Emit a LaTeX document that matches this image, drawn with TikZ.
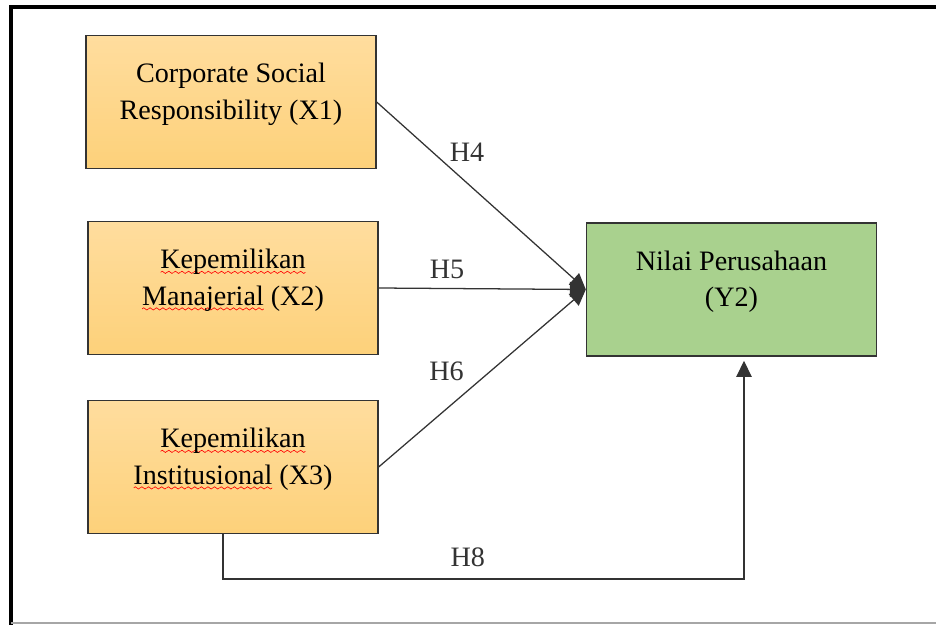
\documentclass[tikz,border=0pt]{standalone}
\usepackage{fontspec}
\setmainfont{Liberation Serif}
\usetikzlibrary{arrows.meta,positioning}

\definecolor{ocTop}{HTML}{FFDD9E}
\definecolor{ocBot}{HTML}{FDD17A}
\definecolor{gnBox}{HTML}{A9D18E}
\definecolor{lnGray}{HTML}{333333}

% red spell-check squiggle under a word
\newsavebox\wavebit
\newsavebox\wordbox
\sbox\wavebit{\tikz[x=1pt,y=1pt]{\useasboundingbox (0,-1) rectangle (4.5,1);
		\draw[red, line width=0.45pt] (0,0) sin (1.125,0.8) cos (2.25,0) sin (3.375,-0.8) cos (4.5,0);}}
\newcommand\redwave[1]{\sbox\wordbox{#1}%
	\rlap{\raisebox{-3.6pt}{\hbox to \wd\wordbox{\xleaders\copy\wavebit\hfill}}}\usebox\wordbox}

\tikzset{
	varbox/.style={draw=black!80, line width=0.9pt, minimum width=7.25cm, minimum height=3.33cm,
		align=center, font=\fontsize{20pt}{26pt}\selectfont, text depth=0.54cm},
	xbox/.style={varbox, top color=ocTop, bottom color=ocBot},
	ybox/.style={varbox, fill=gnBox},
	link/.style={lnGray, line width=0.9pt, -{Triangle[length=0.4cm,width=0.38cm]}},
	hlab/.style={font=\fontsize{20pt}{24pt}\selectfont, inner sep=1pt}
}

\begin{document}
\begin{tikzpicture}[x=0.025cm,y=-0.025cm]
	\useasboundingbox (0,0) rectangle (936,625);
	
	% frame
	\draw[line width=2.8pt] (11,625) -- (11,7) -- (936,7);
	\draw[gray!70, line width=0.8pt] (11,623) -- (936,623);
	
	% variables
	\node[xbox] (x1) at (231,102) {Corporate Social\\Responsibility (X1)};
	\node[xbox] (x2) at (233,288) {\redwave{Kepemilikan}\\\redwave{Manajerial} (X2)};
	\node[xbox] (x3) at (233,467) {\redwave{Kepemilikan}\\\redwave{Institusional} (X3)};
	\node[ybox] (y2) at (731.5,289.5) {Nilai Perusahaan\\(Y2)};
	
	% hypotheses
	\draw[link] (x1.east) -- (y2.west) node[hlab, pos=0.39, above=0.3cm, xshift=0.22cm]{H4};
	\draw[link] (x2.east) -- (y2.west) node[hlab, pos=0.33, above=0.2cm]{H5};
	\draw[link] (x3.east) -- (y2.west) node[hlab, pos=0.42, above left=0.25cm and 0cm]{H6};
	
	\coordinate (b8) at (223,579);
	\coordinate (c8) at (744,579);
	\draw[link, shorten >=0.1cm] (x3.south -| b8) -- (b8) -- node[hlab, pos=0.47, above=0.25cm]{H8} (c8) -- (c8 |- y2.south);
\end{tikzpicture}
\end{document}
